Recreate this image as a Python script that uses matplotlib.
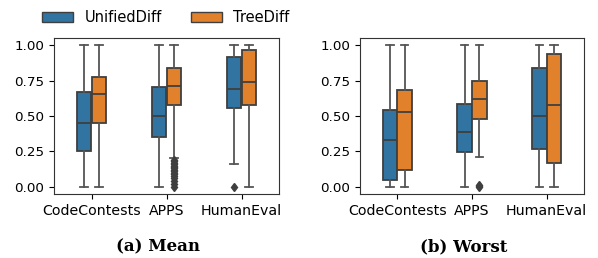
import numpy as np
import matplotlib
matplotlib.use("Agg")
import matplotlib.pyplot as plt
from matplotlib.patches import Patch

# categories and series
categories = ["CodeContests", "APPS", "HumanEval"]
series = ["UnifiedDiff", "TreeDiff"]
colors = ["#3274a1", "#e1812c"]
line_gray = "#3f3f3f"

# box stats: [whislo, q1, med, q3, whishi] per category
mean_unified = [[0.0, 0.254, 0.448, 0.667, 1.0],
                [0.0, 0.352, 0.498, 0.707, 1.0],
                [0.164, 0.554, 0.688, 0.915, 1.0]]
mean_tree = [[0.0, 0.448, 0.655, 0.772, 1.0],
             [0.207, 0.577, 0.709, 0.836, 1.0],
             [0.0, 0.577, 0.739, 0.965, 1.0]]
mean_unified_fliers = [[], [], [0.0]]
mean_tree_fliers = [[],
                    [0.19, 0.18, 0.17, 0.16, 0.15, 0.14, 0.13, 0.12, 0.11,
                     0.10, 0.09, 0.08, 0.06, 0.04, 0.02, 0.0],
                    []]

worst_unified = [[0.0, 0.049, 0.331, 0.542, 1.0],
                 [0.0, 0.249, 0.385, 0.582, 1.0],
                 [0.0, 0.265, 0.498, 0.840, 1.0]]
worst_tree = [[0.0, 0.120, 0.531, 0.681, 1.0],
              [0.209, 0.479, 0.617, 0.746, 1.0],
              [0.0, 0.167, 0.580, 0.934, 1.0]]
worst_unified_fliers = [[], [], []]
worst_tree_fliers = [[], [0.0, 0.005, 0.01], []]

yticks = [0.0, 0.25, 0.5, 0.75, 1.0]
captions = ["(a) Mean", "(b) Worst"]


def make_stats(rows, fliers):
    stats = []
    for r, f in zip(rows, fliers):
        stats.append({"whislo": r[0], "q1": r[1], "med": r[2], "q3": r[3],
                      "whishi": r[4], "fliers": f})
    return stats


def draw_panel(ax, groups):
    x = np.arange(len(categories))
    offsets = [-0.1, 0.1]
    for (rows, fliers), off, c in zip(groups, offsets, colors):
        ax.bxp(make_stats(rows, fliers), positions=x + off, widths=0.196,
               capwidths=0.098, patch_artist=True, manage_ticks=False,
               boxprops=dict(facecolor=c, edgecolor=line_gray, linewidth=1.3),
               medianprops=dict(color=line_gray, linewidth=1.3),
               whiskerprops=dict(color="#555555", linewidth=1.3),
               capprops=dict(color="#555555", linewidth=1.3),
               flierprops=dict(marker="d", markerfacecolor=line_gray,
                               markeredgecolor=line_gray, markersize=4.5))
    ax.set_xlim(-0.5, 2.5)
    ax.set_ylim(-0.05, 1.05)
    ax.set_xticks(x)
    ax.set_xticklabels(categories, fontsize=10.2)
    ax.set_yticks(yticks)
    ax.set_yticklabels([f"{t:.2f}" for t in yticks], fontsize=9.7)
    for s in ax.spines.values():
        s.set_color("#333333")


fig = plt.figure(figsize=(5.98, 2.58), dpi=100)
ax0 = fig.add_axes([54 / 598, 64 / 258, 225 / 598, 156 / 258])
ax1 = fig.add_axes([360 / 598, 64 / 258, 224 / 598, 156 / 258])

draw_panel(ax0, [(mean_unified, mean_unified_fliers), (mean_tree, mean_tree_fliers)])
draw_panel(ax1, [(worst_unified, worst_unified_fliers), (worst_tree, worst_tree_fliers)])

handles = [Patch(facecolor=c, edgecolor=line_gray, linewidth=1.0) for c in colors]
fig.legend(handles, series, loc="center", bbox_to_anchor=(166 / 598, 1 - 17.5 / 258),
           ncol=2, frameon=False, fontsize=10.5, handlelength=2.1,
           handleheight=0.72, handletextpad=0.8, columnspacing=2.0)

fig.text(158 / 598, 1 - 247 / 258, captions[0], ha="center", va="center",
         fontsize=12, fontweight="bold", family="DejaVu Serif")
fig.text(464 / 598, 1 - 247 / 258, captions[1], ha="center", va="center",
         fontsize=12, fontweight="bold", family="DejaVu Serif")

fig.savefig("out.png", dpi=100)
